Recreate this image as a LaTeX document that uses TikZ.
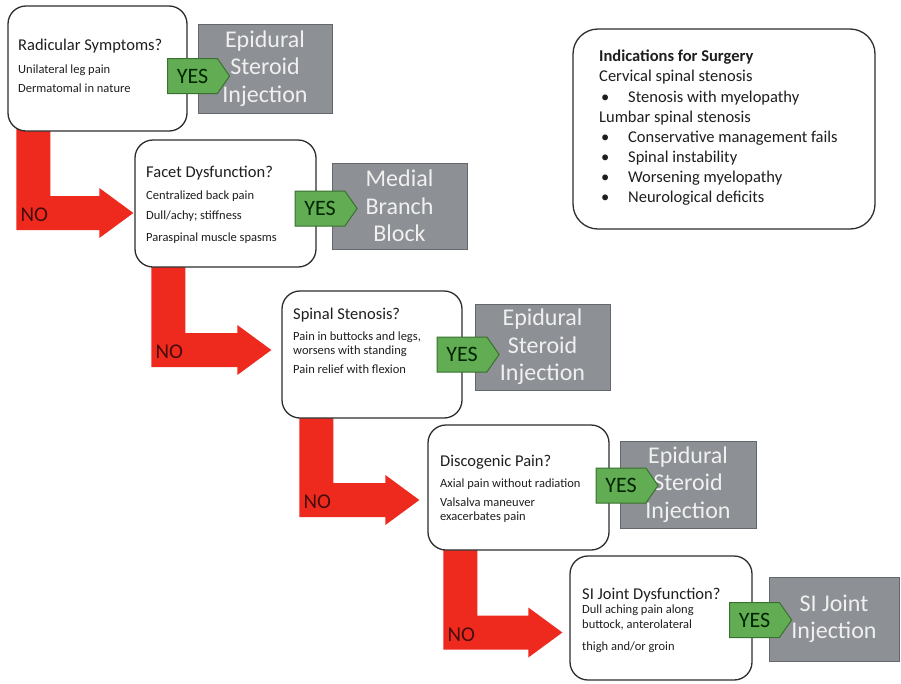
\documentclass[tikz,border=0pt]{standalone}
\usepackage{fontspec}
\setmainfont{Carlito}
\usetikzlibrary{calc,shapes.symbols,backgrounds}

\definecolor{nored}{RGB}{238,42,30}
\definecolor{notext}{RGB}{70,12,12}
\definecolor{yesfill}{RGB}{98,172,84}
\definecolor{yesdraw}{RGB}{58,112,48}
\definecolor{txfill}{RGB}{141,144,148}
\definecolor{txdraw}{RGB}{100,103,108}
\definecolor{txtext}{RGB}{240,240,240}
\definecolor{boxline}{RGB}{45,45,45}
\definecolor{bodytext}{RGB}{30,30,30}

\tikzset{
  question/.style={draw=boxline, line width=1.3pt, fill=white,
    rounded corners=18pt, inner sep=0pt},
  qtext/.style={anchor=north west, inner sep=0pt, align=left,
    font=\fontsize{12.5}{15}\selectfont, text=bodytext},
  treatment/.style={draw=txdraw, line width=1pt, fill=txfill, inner sep=0pt,
    align=center, text=txtext, font=\fontsize{24}{27.5}\selectfont},
  yes/.style={signal, signal to=east, signal from=nowhere,
    signal pointer angle=110, draw=yesdraw, line width=1pt, fill=yesfill,
    minimum width=62pt, minimum height=35pt, inner sep=0pt,
    text=black!85!green, font=\fontsize{22}{24}\selectfont},
  nolabel/.style={inner sep=0pt, text=notext, font=\fontsize{21}{24}\selectfont},
  noarrow/.style={fill=nored},
  indbox/.style={draw=boxline, line width=1.3pt, fill=white,
    rounded corners=25pt, inner sep=0pt},
  indtext/.style={anchor=north west, inner sep=0pt, align=left,
    font=\fontsize{16.5}{20.1}\selectfont, text=bodytext},
}

% question title line
\newcommand\qtitle[1]{{\fontsize{16.5}{20}\selectfont #1}}
% bullet with hanging text
\newcommand\bul{\makebox[29pt][l]{\hspace{2pt}•}}

% L-shaped "NO" arrow from box #1 down and right into box #2
% #3 bar offset from #1's left edge, #4 vertical offset of the tip,
% #5 gap before #2, #6 name of the label
\newcommand\redturn[6]{%
  \fill[noarrow] let \p1=($(#1.south west)+(#3,-3)$),
                     \p2=($(#2.west)+(-#5,#4)$) in
    (\x1,\y1) -- (\x1,\y2-17pt) -- (\x2-34pt,\y2-17pt) -- (\x2-34pt,\y2-25pt)
    -- (\x2,\y2) -- (\x2-34pt,\y2+25pt) -- (\x2-34pt,\y2+17pt)
    -- (\x1+34pt,\y2+17pt) -- (\x1+34pt,\y1) -- cycle
    node[nolabel] (#6) at (\x1+18pt,\y2-2pt) {NO};
}

\begin{document}
\begin{tikzpicture}[x=1pt,y=-1pt]
\useasboundingbox (0,0) rectangle (901,683);

% ---- question boxes ----
\node[question, minimum width=179pt, minimum height=125pt] (q1) at (97.5,68.5) {};
\node[question, minimum width=181pt, minimum height=127pt] (q2) at (225.5,203.5) {};
\node[question, minimum width=180pt, minimum height=127pt] (q3) at (372,354.5) {};
\node[question, minimum width=181pt, minimum height=125pt] (q4) at (518.5,487.5) {};
\node[question, minimum width=182pt, minimum height=124pt] (q5) at (661,618) {};

\node[qtext] (q1t) at (18,39) {\qtitle{Radicular Symptoms?}\\[7.7pt]
  Unilateral leg pain\\[4pt] Dermatomal in nature};
\node[qtext] (q2t) at (146,166) {\qtitle{Facet Dysfunction?}\\[6.7pt]
  Centralized back pain\\[5pt] Dull/achy; stiffness\\[7pt] Paraspinal muscle spasms};
\node[qtext] (q3t) at (293,308) {\qtitle{Spinal Stenosis?}\\[5.7pt]
  Pain in buttocks and legs,\\[-1pt] worsens with standing\\[4pt] Pain relief with flexion};
\node[qtext] (q4t) at (440,455) {\qtitle{Discogenic Pain?}\\[5.7pt]
  Axial pain without radiation\\[4pt] Valsalva maneuver\\[-1pt] exacerbates pain};
\node[qtext] (q5t) at (582,588) {\qtitle{SI Joint Dysfunction?}\\[-1.3pt]
  Dull aching pain along\\[0pt] buttock, anterolateral\\[7pt] thigh and/or groin};

% ---- treatments ----
\node[treatment, minimum width=134pt, minimum height=89pt] (g1) at (265,68.5)
  {Epidural\\Steroid\\Injection};
\node[treatment, minimum width=135pt, minimum height=86pt] (g2) at (399.5,206)
  {Medial\\Branch\\Block};
\node[treatment, minimum width=135pt, minimum height=86pt] (g3) at (542.5,347)
  {Epidural\\Steroid\\Injection};
\node[treatment, minimum width=136pt, minimum height=87pt] (g4) at (688,484.5)
  {Epidural\\Steroid\\Injection};
\node[treatment, minimum width=130pt, minimum height=84pt] (g5) at (834,619)
  {SI Joint\\Injection};

% ---- YES pointers ----
\node[yes] (y1) at (192.5,76) {YES};
\node[yes] (y2) at (320,208.5) {YES};
\node[yes] (y3) at (462,354.5) {YES};
\node[yes] (y4) at (621,485.5) {YES};
\node[yes] (y5) at (754.5,620) {YES};

% ---- indications panel ----
\node[indbox, minimum width=302pt, minimum height=200pt] (ind) at (724,129) {};
\node[indtext] (indt) at (599,50) {\textbf{Indications for Surgery}\\
  Cervical spinal stenosis\\
  \bul Stenosis with myelopathy\\
  Lumbar spinal stenosis\\
  \bul Conservative management fails\\
  \bul Spinal instability\\
  \bul Worsening myelopathy\\
  \bul Neurological deficits};

% ---- NO arrows behind the boxes ----
\begin{pgfonlayer}{background}
  \fill[white] (0,0) rectangle (901,683);
  \redturn{q1}{q2}{9}{9.5}{1}{no1}
  \redturn{q2}{q3}{17}{-4.5}{10}{no2}
  \redturn{q3}{q4}{18}{12.5}{8}{no3}
  \redturn{q4}{q5}{16}{14.5}{7}{no4}
\end{pgfonlayer}
\end{tikzpicture}
\end{document}
